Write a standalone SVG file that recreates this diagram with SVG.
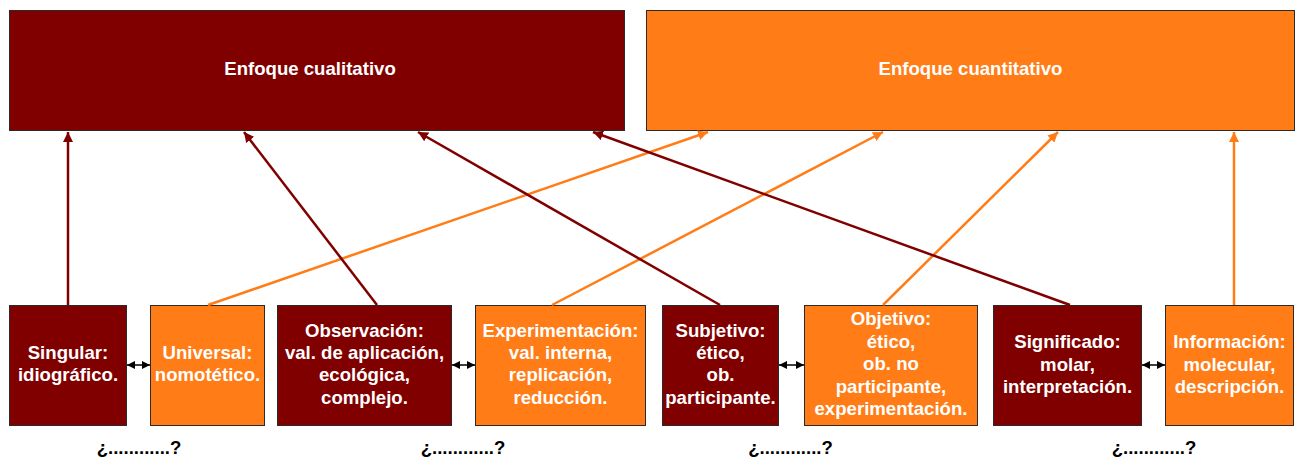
<svg xmlns="http://www.w3.org/2000/svg" width="1300" height="461" viewBox="0 0 1300 461">
  <defs>
    <style>
      .box { stroke: #2a2a2a; stroke-width: 1; }
      .qual { fill: #800000; }
      .quant { fill: #FF7C16; }
      .lbl { font-family: "Liberation Sans", Arial, sans-serif; font-weight: bold; font-size: 18.6px; fill: #ffffff; text-anchor: middle; }
      .ask { font-family: "Liberation Sans", Arial, sans-serif; font-weight: bold; font-size: 18.6px; fill: #000000; text-anchor: middle; }
      .ln-qual { stroke: #800000; stroke-width: 2.5; fill: none; }
      .ln-quant { stroke: #FF7C16; stroke-width: 2.5; fill: none; }
      .ln-pair { stroke: #000000; stroke-width: 1.5; fill: none; }
    </style>
    <marker id="head-qual" viewBox="0 0 10 10" refX="10" refY="5" markerWidth="10" markerHeight="10" markerUnits="userSpaceOnUse" orient="auto">
      <path d="M0,0 L10,5 L0,10 Z" fill="#800000"/>
    </marker>
    <marker id="head-quant" viewBox="0 0 10 10" refX="10" refY="5" markerWidth="10" markerHeight="10" markerUnits="userSpaceOnUse" orient="auto">
      <path d="M0,0 L10,5 L0,10 Z" fill="#FF7C16"/>
    </marker>
    <marker id="head-pair" viewBox="0 0 10 10" refX="10" refY="5" markerWidth="8" markerHeight="8" markerUnits="userSpaceOnUse" orient="auto-start-reverse">
      <path d="M0,0 L10,5 L0,10 Z" fill="#000000"/>
    </marker>
  </defs>

  <rect width="1300" height="461" fill="#ffffff"/>

  <!-- approaches -->
  <g id="enfoque-cualitativo">
    <rect class="box qual" x="9.5" y="10.5" width="615" height="120"/>
    <text class="lbl" x="310" y="75">Enfoque cualitativo</text>
  </g>
  <g id="enfoque-cuantitativo">
    <rect class="box quant" x="646.5" y="10.5" width="648" height="120"/>
    <text class="lbl" x="970.5" y="75">Enfoque cuantitativo</text>
  </g>

  <!-- characteristics -->
  <g id="singular">
    <rect class="box qual" x="9.5" y="305.5" width="117" height="120"/>
    <text class="lbl"><tspan x="68" y="359">Singular:</tspan><tspan x="68" y="381.4">idiográfico.</tspan></text>
  </g>
  <g id="universal">
    <rect class="box quant" x="150.5" y="305.5" width="114" height="120"/>
    <text class="lbl"><tspan x="207.5" y="359">Universal:</tspan><tspan x="207.5" y="381.4">nomotético.</tspan></text>
  </g>
  <g id="observacion">
    <rect class="box qual" x="277.5" y="305.5" width="174" height="120"/>
    <text class="lbl"><tspan x="364.5" y="336.6">Observación:</tspan><tspan x="364.5" y="359">val. de aplicación,</tspan><tspan x="364.5" y="381.4">ecológica,</tspan><tspan x="364.5" y="403.8">complejo.</tspan></text>
  </g>
  <g id="experimentacion">
    <rect class="box quant" x="475.5" y="305.5" width="170" height="120"/>
    <text class="lbl"><tspan x="560.5" y="336.6">Experimentación:</tspan><tspan x="560.5" y="359">val. interna,</tspan><tspan x="560.5" y="381.4">replicación,</tspan><tspan x="560.5" y="403.8">reducción.</tspan></text>
  </g>
  <g id="subjetivo">
    <rect class="box qual" x="662.5" y="305.5" width="116" height="120"/>
    <text class="lbl"><tspan x="720.5" y="336.6">Subjetivo:</tspan><tspan x="720.5" y="359">ético,</tspan><tspan x="720.5" y="381.4">ob.</tspan><tspan x="720.5" y="403.8">participante.</tspan></text>
  </g>
  <g id="objetivo">
    <rect class="box quant" x="804.5" y="305.5" width="173" height="120"/>
    <text class="lbl"><tspan x="891" y="325.4">Objetivo:</tspan><tspan x="891" y="347.8">ético,</tspan><tspan x="891" y="370.2">ob. no</tspan><tspan x="891" y="392.6">participante,</tspan><tspan x="891" y="415">experimentación.</tspan></text>
  </g>
  <g id="significado">
    <rect class="box qual" x="993.5" y="305.5" width="148" height="120"/>
    <text class="lbl"><tspan x="1067.5" y="348.2">Significado:</tspan><tspan x="1067.5" y="370.6">molar,</tspan><tspan x="1067.5" y="393">interpretación.</tspan></text>
  </g>
  <g id="informacion">
    <rect class="box quant" x="1165.5" y="305.5" width="128" height="120"/>
    <text class="lbl"><tspan x="1229.5" y="348.2">Información:</tspan><tspan x="1229.5" y="370.6">molecular,</tspan><tspan x="1229.5" y="393">descripción.</tspan></text>
  </g>

  <!-- open questions under each pair -->
  <g id="preguntas">
    <text class="ask" x="139" y="454">¿............?</text>
    <text class="ask" x="463" y="454">¿............?</text>
    <text class="ask" x="790.5" y="454">¿............?</text>
    <text class="ask" x="1154" y="454">¿............?</text>
  </g>

  <!-- connectors -->
  <g id="connectors">
    <line class="ln-qual" x1="68" y1="305" x2="68" y2="132" marker-end="url(#head-qual)"/>
    <line class="ln-quant" x1="208" y1="305" x2="708" y2="132" marker-end="url(#head-quant)"/>
    <line class="ln-qual" x1="377" y1="305" x2="244" y2="132" marker-end="url(#head-qual)"/>
    <line class="ln-quant" x1="552" y1="305" x2="883" y2="132" marker-end="url(#head-quant)"/>
    <line class="ln-qual" x1="720" y1="305" x2="418" y2="132" marker-end="url(#head-qual)"/>
    <line class="ln-quant" x1="883" y1="305" x2="1058" y2="132" marker-end="url(#head-quant)"/>
    <line class="ln-qual" x1="1070" y1="305" x2="593" y2="132" marker-end="url(#head-qual)"/>
    <line class="ln-quant" x1="1234" y1="305" x2="1234" y2="132" marker-end="url(#head-quant)"/>

    <line class="ln-pair" x1="127" y1="365" x2="150" y2="365" marker-start="url(#head-pair)" marker-end="url(#head-pair)"/>
    <line class="ln-pair" x1="452" y1="365" x2="475" y2="365" marker-start="url(#head-pair)" marker-end="url(#head-pair)"/>
    <line class="ln-pair" x1="779" y1="365" x2="804" y2="365" marker-start="url(#head-pair)" marker-end="url(#head-pair)"/>
    <line class="ln-pair" x1="1142" y1="365" x2="1165" y2="365" marker-start="url(#head-pair)" marker-end="url(#head-pair)"/>
  </g>
</svg>
